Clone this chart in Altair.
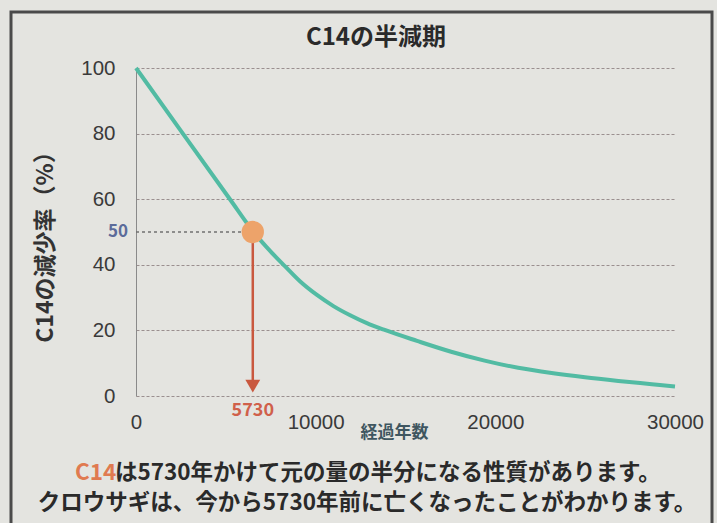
import altair as alt
import pandas as pd

# ---- data ----
years = [0, 2450, 5240, 6500, 7500, 8300, 9140, 10070, 10990, 11920,
         12850, 13800, 15640, 17540, 19400, 21270, 23130, 24990, 26850, 28710, 30000]
remaining = [100, 81.2, 59.9, 50.3, 44.0, 39.5, 34.9, 30.8, 27.4, 24.6,
             22.2, 20.2, 16.8, 13.5, 10.8, 8.6, 7.0, 5.7, 4.6, 3.6, 2.9]

half_x = [6500]          # where the half-life marker is drawn
half_y = [50]
half_label = ["5730"]
half_y_label = ["50"]
arrow_end = [3]

y_ticks = [0, 20, 40, 60, 80, 100]
x_ticks = [0, 10000, 20000, 30000]

title_text = "C14の半減期"
y_title = "C14の減少率（%）"
x_title = "経過年数"
note1_a = "C14"
note1_b = "は5730年かけて元の量の半分になる性質があります。"
note2 = "クロウサギは、今から5730年前に亡くなったことがわかります。"

JP = "Noto Sans CJK JP"
NUM = "Liberation Sans"

curve = pd.DataFrame({"year": years, "pct": remaining})
mark = pd.DataFrame({"year": half_x, "pct": half_y, "end": arrow_end,
                     "zero": [0], "lab": half_label, "ylab": half_y_label})

xs = alt.Scale(domain=[0, 30000], nice=False)
ys = alt.Scale(domain=[0, 100], nice=False)

base_line = alt.Chart(curve).mark_line(
    color="#52bba3", strokeWidth=4, interpolate="monotone"
).encode(
    x=alt.X("year:Q", scale=xs,
            axis=alt.Axis(values=x_ticks, format="d", title=x_title,
                          grid=False, domain=False, ticks=False,
                          labelFontSize=20.5, labelFont=NUM, labelColor="#3a3a3a",
                          labelPadding=16, labelFlush=False,
                          titleX=258, titleY=36, titleFont=JP, titleFontSize=17,
                          titleFontWeight="bold", titleColor="#3f5660",
                          titleBaseline="middle", titleAlign="center")),
    y=alt.Y("pct:Q", scale=ys,
            axis=alt.Axis(values=y_ticks, title=y_title, grid=True,
                          gridColor="#9a8f8f", gridDash=[3, 2], gridWidth=1,
                          domain=True, domainColor="#8a8a8a", domainWidth=1,
                          ticks=False, labelFontSize=20.5, labelFont=NUM,
                          labelColor="#3a3a3a", labelPadding=21,
                          titleX=-91, titleY=173, titleAngle=270,
                          titleFont=JP, titleFontSize=23, titleFontWeight="bold",
                          titleColor="#333333", titleBaseline="middle",
                          titleAlign="center")),
)

mk = alt.Chart(mark)

dotted = mk.mark_rule(color="#707070", strokeWidth=1.5, strokeDash=[3, 3]).encode(
    x=alt.X("zero:Q", scale=xs), x2="year:Q", y=alt.Y("pct:Q", scale=ys))

arrow = mk.mark_rule(color="#c9583f", strokeWidth=2.5).encode(
    x=alt.X("year:Q", scale=xs), y=alt.Y("pct:Q", scale=ys), y2="end:Q")

head = mk.mark_point(shape="triangle-down", filled=True, color="#c9583f",
                     size=220, opacity=1).encode(
    x=alt.X("year:Q", scale=xs), y=alt.Y("end:Q", scale=ys))

dot = mk.mark_circle(color="#eda36a", size=500, opacity=1).encode(
    x=alt.X("year:Q", scale=xs), y=alt.Y("pct:Q", scale=ys))

lab_x = mk.mark_text(font=JP, fontSize=18, fontWeight="bold", color="#d0604a",
                     baseline="middle", align="center").encode(
    x=alt.X("year:Q", scale=xs), y=alt.value(343), text="lab:N")

lab_y = mk.mark_text(font=JP, fontSize=17, fontWeight="bold", color="#5b6b9a",
                     baseline="middle", align="right").encode(
    x=alt.value(-8), y=alt.Y("pct:Q", scale=ys), text="ylab:N")


def txt(s, x, y, size, color, align="center", weight="bold"):
    return alt.Chart(pd.DataFrame({"t": [s]})).mark_text(
        font=JP, fontSize=size, fontWeight=weight, color=color,
        align=align, baseline="middle").encode(
        x=alt.value(x), y=alt.value(y), text="t:N")


frame = alt.Chart(pd.DataFrame({"t": [0]})).mark_rect(
    fill="transparent", stroke="#4a4a4a", strokeWidth=3).encode(
    x=alt.value(-125), x2=alt.value(576), y=alt.value(-56), y2=alt.value(480))

title = txt(title_text, 240, -30, 24, "#2a2a2a")
n1a = txt(note1_a, -61, 405, 22.5, "#e07a50", align="left")
n1b = txt(note1_b, -21, 405, 22.5, "#2a2a2a", align="left")
n2 = txt(note2, 231, 435, 22.5, "#2a2a2a")

chart = alt.layer(
    frame, base_line, dotted, arrow, head, dot, lab_x, lab_y, title, n1a, n1b, n2
).properties(
    width=539, height=328,
    autosize=alt.AutoSizeParams(type="none"),
    padding={"left": 136, "top": 68, "right": 42, "bottom": 127},
    background="#e4e4e0",
).configure_view(stroke=None)

chart.save("out.html", embed_options={"renderer": "svg", "actions": False})
